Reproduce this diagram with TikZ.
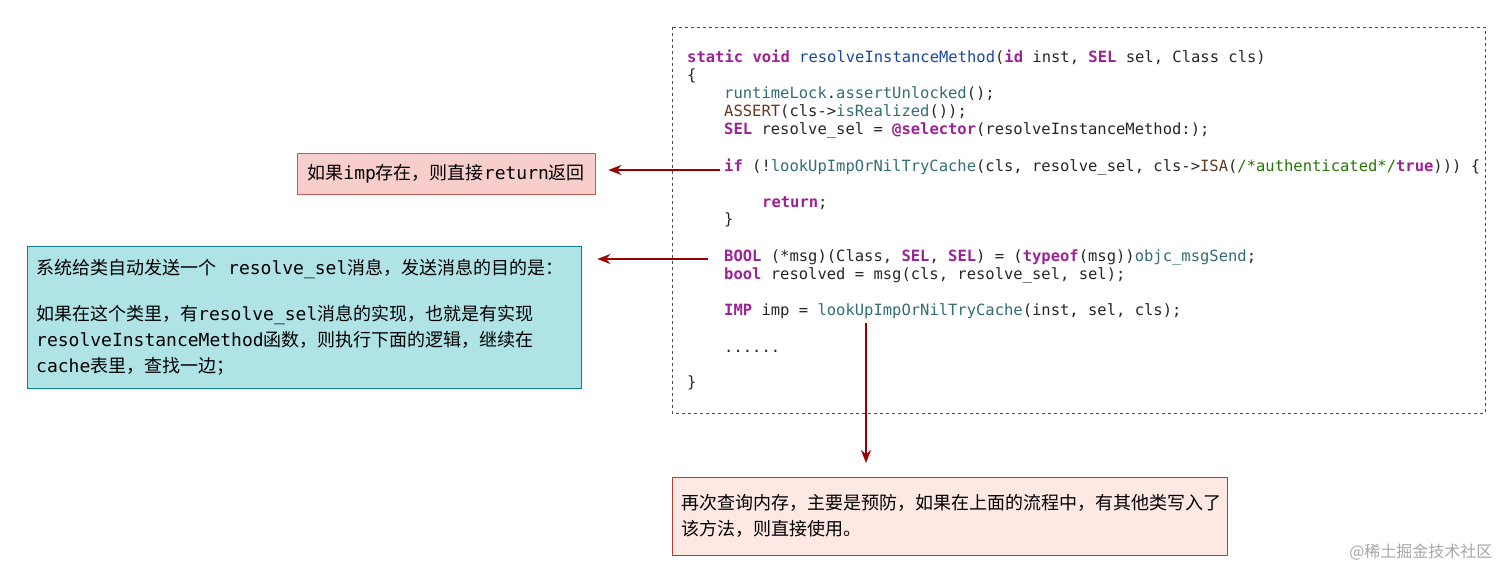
\documentclass[tikz,border=0pt]{standalone}
\usepackage{fontspec}
\setmainfont{DejaVu Sans Mono}
\setmonofont{DejaVu Sans Mono}
\newfontfamily\cjk{Noto Sans CJK SC}
\usetikzlibrary{arrows.meta}
\definecolor{kwpurple}{RGB}{155,35,147}
\definecolor{fnblue}{RGB}{28,70,160}
\definecolor{calltea}{RGB}{50,109,116}
\definecolor{macbrown}{RGB}{100,56,32}
\definecolor{cmgreen}{RGB}{38,117,7}
\definecolor{arrred}{RGB}{153,0,0}
\definecolor{retfill}{RGB}{248,206,204}
\definecolor{retline}{RGB}{200,90,85}
\definecolor{selfill}{RGB}{176,227,230}
\definecolor{selline}{RGB}{14,128,136}
\definecolor{cachefill}{RGB}{253,232,228}
\definecolor{cacheline}{RGB}{174,65,50}
\newcommand{\kw}[1]{\textcolor{kwpurple}{\bfseries #1}}
\newcommand{\fnc}[1]{\textcolor{fnblue}{#1}}
\newcommand{\cl}[1]{\textcolor{calltea}{#1}}
\newcommand{\mc}[1]{\textcolor{macbrown}{#1}}
\newcommand{\cmt}[1]{\textcolor{cmgreen}{#1}}
\newcommand{\zh}[1]{{\cjk #1}}
\tikzset{
  codeline/.style={anchor=base west, inner sep=0pt, font=\ttfamily\fontsize{15.5}{18}\selectfont, text=black!85},
  notebox/.style={draw, anchor=north west, align=left, inner xsep=9pt, font=\fontsize{18}{26}\selectfont},
  arr/.style={draw=arrred, line width=1.6pt, -{Stealth[length=13pt,width=10pt]}}
}
\begin{document}
\begin{tikzpicture}[x=1pt,y=-1pt]
    \useasboundingbox (0,0) rectangle (1512,582);
    % code frame
    \draw[dashed, line width=0.8pt, black!70] (672,27) rectangle (1485,413);

    % code lines
    \node[codeline] (l1) at (687,62) {\kw{static} \kw{void} \fnc{resolveInstanceMethod}(\kw{id} inst, \kw{SEL} sel, Class cls)};
    \node[codeline] (l2) at (687,80) {\{};
    \node[codeline] (l3) at (724,98) {\cl{runtimeLock}.\cl{assertUnlocked}();};
    \node[codeline] (l4) at (724,116) {\mc{ASSERT}(cls->\cl{isRealized}());};
    \node[codeline] (l5) at (724,134) {\kw{SEL} resolve\_sel = \kw{@selector}(resolveInstanceMethod:);};
    \node[codeline] (l6) at (724,171) {\kw{if} (!\cl{lookUpImpOrNilTryCache}(cls, resolve\_sel, cls->\mc{ISA}(\cmt{/*authenticated*/}\kw{true}))) \{};
    \node[codeline] (l7) at (762,207) {\kw{return};};
    \node[codeline] (l8) at (724,224) {\}};
    \node[codeline] (l9) at (724,261) {\kw{BOOL} (*msg)(Class, \kw{SEL}, \kw{SEL}) = (\kw{typeof}(msg))\cl{objc\_msgSend};};
    \node[codeline] (l10) at (724,279) {\kw{bool} resolved = msg(cls, resolve\_sel, sel);};
    \node[codeline] (l11) at (724,315) {\kw{IMP} imp = \cl{lookUpImpOrNilTryCache}(inst, sel, cls);};
    \node[codeline] (l12) at (724,352) {......};
    \node[codeline] (l13) at (687,387) {\}};

    % notes
    \node[notebox, fill=retfill, draw=retline, minimum width=298pt, minimum height=41pt] (retbox) at (297,153)
        {\zh{如果}imp\zh{存在，则直接}return\zh{返回}};
    \node[notebox, fill=selfill, draw=selline, minimum width=554pt, minimum height=142pt, text width=536pt] (selbox) at (27,246)
        {\zh{系统给类自动发送一个}\ \ resolve\_sel\zh{消息，发送消息的目的是：}\\[20pt]
         \zh{如果在这个类里，有}resolve\_sel\zh{消息的实现，也就是有实现}\\
         resolveInstanceMethod\zh{函数，则执行下面的逻辑，继续在}\\
         cache\zh{表里，查找一边；}};
    \node[notebox, fill=cachefill, draw=cacheline, minimum width=555pt, minimum height=78pt, text width=537pt] (cachebox) at (672,477)
        {\zh{再次查询内存，主要是预防，如果在上面的流程中，有其他类写入了}\\
         \zh{该方法，则直接使用。}};

    % connectors
    \coordinate (c1) at (720,170);
    \coordinate (c2) at (708,259);
    \coordinate (c3) at (866,323);
    \draw[arr] (c1) -- ([xshift=13pt]retbox.east |- c1);
    \draw[arr] (c2) -- ([xshift=16pt]selbox.east |- c2);
    \draw[arr] (c3) -- (c3 |- 0,463);

    % watermark
    \node[font=\cjk\fontsize{16}{18}\selectfont, text=black!35, anchor=east] (mark) at (1496,552) {@稀土掘金技术社区};
\end{tikzpicture}
\end{document}
